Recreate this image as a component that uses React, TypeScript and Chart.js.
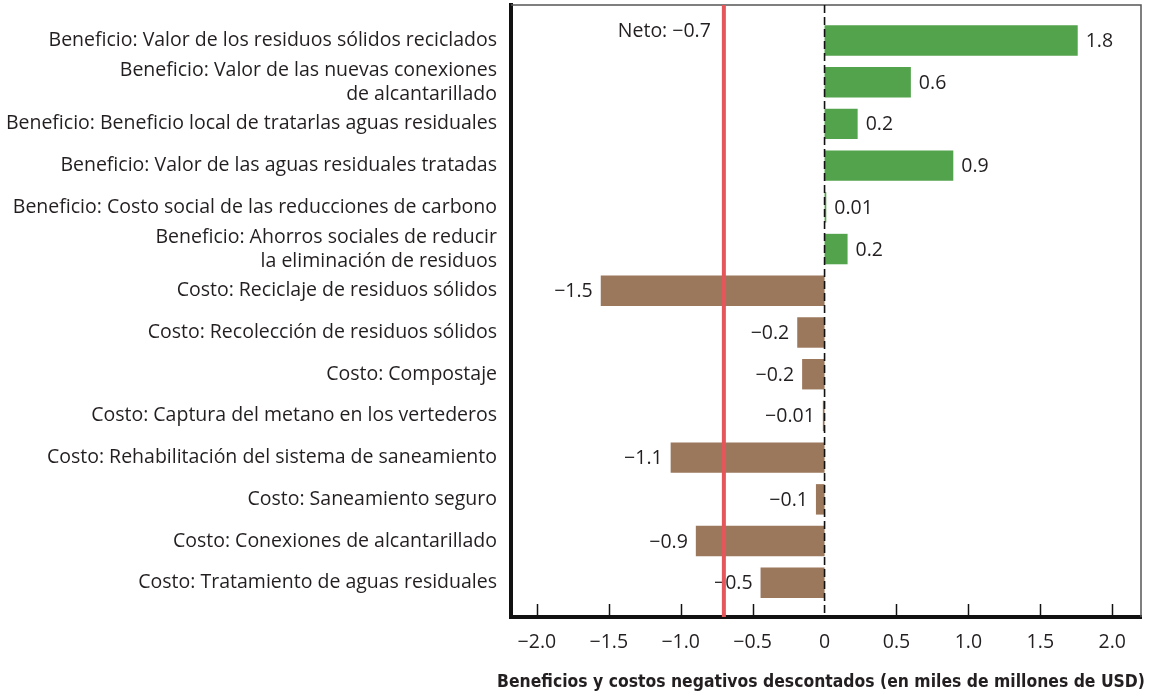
import React, { useEffect, useRef } from "react";
import { Chart, registerables } from "chart.js";

Chart.register(...registerables);

const CATEGORIES: (string | string[])[] = [
  "Beneficio: Valor de los residuos sólidos reciclados",
  ["Beneficio: Valor de las nuevas conexiones", "de alcantarillado"],
  "Beneficio: Beneficio local de tratarlas aguas residuales",
  "Beneficio: Valor de las aguas residuales tratadas",
  "Beneficio: Costo social de las reducciones de carbono",
  ["Beneficio: Ahorros sociales de reducir", "la eliminación de residuos"],
  "Costo: Reciclaje de residuos sólidos",
  "Costo: Recolección de residuos sólidos",
  "Costo: Compostaje",
  "Costo: Captura del metano en los vertederos",
  "Costo: Rehabilitación del sistema de saneamiento",
  "Costo: Saneamiento seguro",
  "Costo: Conexiones de alcantarillado",
  "Costo: Tratamiento de aguas residuales",
];

const VALUES: number[] = [
  1.76, 0.6, 0.23, 0.895, 0.012, 0.16, -1.556, -0.19, -0.156, -0.012, -1.07,
  -0.06, -0.895, -0.445,
];

const VALUE_LABELS: string[] = [
  "1.8", "0.6", "0.2", "0.9", "0.01", "0.2", "−1.5", "−0.2", "−0.2", "−0.01",
  "−1.1", "−0.1", "−0.9", "−0.5",
];

const NET = -0.7;
const NET_LABEL = "Neto: −0.7";

const X_TICKS: number[] = [-2, -1.5, -1, -0.5, 0, 0.5, 1, 1.5, 2];
const X_TICK_LABELS: string[] = [
  "−2.0", "−1.5", "−1.0", "−0.5", "0", "0.5", "1.0", "1.5", "2.0",
];

const X_TITLE =
  "Beneficios y costos negativos descontados (en miles de millones de USD)";

const GREEN = "#53a24c";
const BROWN = "#9b775b";
const RED = "#e5565b";
const TEXT = "#231f20";
const FONT = "'Open Sans', 'Noto Sans', sans-serif";
const FONT_SIZE = 19.5;
const TITLE_FONT = "bold 18.5px 'DejaVu Sans Condensed', sans-serif";

const overlayPlugin = {
  id: "overlay",
  afterDatasetsDraw(chart: any) {
    const { ctx, chartArea } = chart;
    const xs = chart.scales.x;
    const { left, right, top, bottom } = chartArea;
    ctx.save();

    // top / right frame
    ctx.strokeStyle = "#555";
    ctx.lineWidth = 1.5;
    ctx.beginPath();
    ctx.moveTo(left, top);
    ctx.lineTo(right, top);
    ctx.lineTo(right, bottom);
    ctx.stroke();

    // inward ticks
    ctx.strokeStyle = "#111";
    ctx.lineWidth = 1.5;
    X_TICKS.forEach((v) => {
      if (v === 0) return;
      const px = Math.round(xs.getPixelForValue(v)) + 0.5;
      ctx.beginPath();
      ctx.moveTo(px, bottom - 13);
      ctx.lineTo(px, bottom);
      ctx.stroke();
    });

    // zero dashed line
    const zx = xs.getPixelForValue(0);
    ctx.setLineDash([8, 4]);
    ctx.lineWidth = 1.6;
    ctx.strokeStyle = "#111";
    ctx.beginPath();
    ctx.moveTo(zx, top);
    ctx.lineTo(zx, bottom);
    ctx.stroke();
    ctx.setLineDash([]);

    // value labels
    const meta = chart.getDatasetMeta(0);
    ctx.font = `${FONT_SIZE}px ${FONT}`;
    ctx.fillStyle = TEXT;
    ctx.textBaseline = "middle";
    meta.data.forEach((el: any, i: number) => {
      const v = VALUES[i];
      if (v >= 0) {
        ctx.textAlign = "left";
        ctx.fillText(VALUE_LABELS[i], el.x + 8, el.y + 1);
      } else {
        ctx.textAlign = "right";
        ctx.fillText(VALUE_LABELS[i], el.x - 8, el.y + 1);
      }
    });

    // net line
    const nx = xs.getPixelForValue(NET);
    ctx.strokeStyle = RED;
    ctx.lineWidth = 4;
    ctx.beginPath();
    ctx.moveTo(nx, top);
    ctx.lineTo(nx, bottom);
    ctx.stroke();

    ctx.textAlign = "right";
    ctx.fillStyle = TEXT;
    ctx.fillText(NET_LABEL, nx - 13, top + 26);

    // axis title
    ctx.font = TITLE_FONT;
    ctx.textAlign = "center";
    ctx.textBaseline = "middle";
    ctx.fillStyle = TEXT;
    ctx.fillText(X_TITLE, (left + right) / 2 - 5, 682, 648);

    ctx.restore();
  },
};

export default function App() {
  const canvasRef = useRef<HTMLCanvasElement | null>(null);

  useEffect(() => {
    document.body.style.margin = "0";
    const canvas = canvasRef.current;
    if (!canvas) return;
    const chart = new Chart(canvas, {
      type: "bar",
      data: {
        datasets: [
          {
            data: VALUES.map((v, i) => ({ x: v, y: i })) as any,
            backgroundColor: VALUES.map((_, i) => {
              const lab = CATEGORIES[i];
              const s = Array.isArray(lab) ? lab[0] : lab;
              return s.startsWith("Beneficio") ? GREEN : BROWN;
            }),
            borderWidth: 0,
            categoryPercentage: 1,
            barPercentage: 0.73,
          },
        ],
      },
      options: {
        indexAxis: "y",
        responsive: false,
        animation: false,
        devicePixelRatio: 1,
        layout: { padding: { top: 5, right: 11, left: 0, bottom: 0 } },
        plugins: {
          legend: { display: false },
          tooltip: { enabled: false },
        },
        scales: {
          y: {
            type: "linear",
            reverse: true,
            offset: false,
            min: -0.85,
            max: 13.82,
            afterBuildTicks: (scale: any) => {
              scale.ticks = CATEGORIES.map((_, i) => ({ value: i }));
            },
            afterFit: (scale: any) => {
              scale.width = 511;
              scale.paddingTop = 0;
              scale.paddingBottom = 0;
            },
            grid: { display: false, drawTicks: false },
            border: { display: true, color: "#111", width: 4 },
            ticks: {
              autoSkip: false,
              padding: 14,
              color: TEXT,
              font: { family: FONT, size: FONT_SIZE, lineHeight: 1.23 },
              callback: (value: any) => CATEGORIES[Math.round(Number(value))],
            },
          },
          x: {
            type: "linear",
            min: -2.18,
            max: 2.2,
            afterBuildTicks: (scale: any) => {
              scale.ticks = X_TICKS.map((v) => ({ value: v }));
            },
            afterFit: (scale: any) => {
              scale.height = 79;
              scale.paddingLeft = 0;
              scale.paddingRight = 0;
            },
            grid: { display: false, drawTicks: false },
            border: { display: true, color: "#111", width: 4 },
            ticks: {
              autoSkip: false,
              maxRotation: 0,
              padding: 14,
              color: TEXT,
              font: { family: FONT, size: FONT_SIZE },
              callback: (value: any) => {
                const idx = X_TICKS.findIndex((t) => Math.abs(t - Number(value)) < 1e-9);
                return idx >= 0 ? X_TICK_LABELS[idx] : "";
              },
            },
            title: { display: false },
          },
        },
      },
      plugins: [overlayPlugin],
    });
    return () => chart.destroy();
  }, []);

  return (
    <div style={{ width: 1152, height: 696, background: "#fff" }}>
      <canvas ref={canvasRef} width={1152} height={696} style={{ width: 1152, height: 696, display: "block" }} />
    </div>
  );
}
